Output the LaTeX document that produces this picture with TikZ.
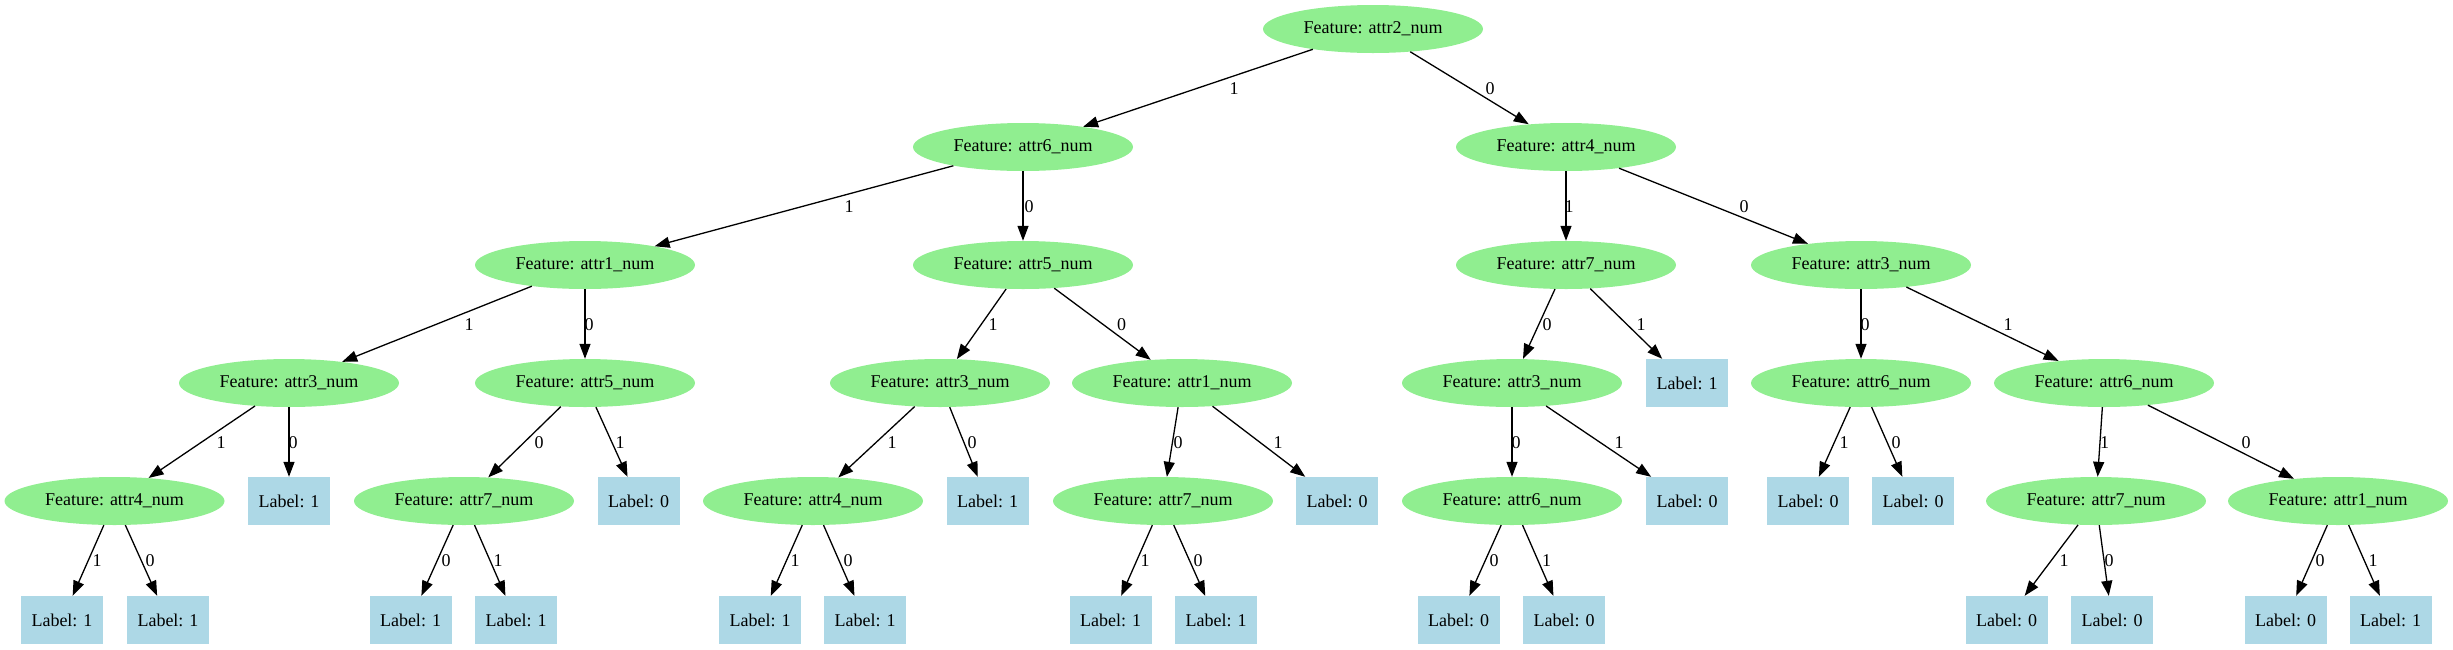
\documentclass[tikz,border=0pt]{standalone}
\usepackage{fontspec}
\setmainfont{Liberation Serif}
\usetikzlibrary{shapes.geometric,arrows.meta}
\definecolor{featfill}{HTML}{90EE90}
\definecolor{leaffill}{HTML}{ADD8E6}
\tikzset{
  feat/.style={ellipse, fill=featfill, inner sep=0pt, minimum width=220pt, minimum height=48pt, font=\fontsize{18}{20}\selectfont},
  leaf/.style={rectangle, fill=leaffill, inner sep=0pt, minimum width=82pt, minimum height=48pt, font=\fontsize{18}{20}\selectfont},
  edge/.style={draw=black, line width=1.3pt, -{Triangle[length=15pt,width=11pt]}},
  elab/.style={inner sep=0pt, font=\fontsize{18}{20}\selectfont}
}
\begin{document}
\begin{tikzpicture}[x=1pt,y=-1pt]
\useasboundingbox (0,0) rectangle (2453,649);
% level 0
\node[feat] (r) at (1373,29) {Feature: attr2\_num};
% level 1
\node[feat] (a6) at (1023,147) {Feature: attr6\_num};
\node[feat] (a4) at (1566,147) {Feature: attr4\_num};
% level 2
\node[feat] (b1) at (585,265) {Feature: attr1\_num};
\node[feat] (b5) at (1023,265) {Feature: attr5\_num};
\node[feat] (b7) at (1566,265) {Feature: attr7\_num};
\node[feat] (b3) at (1861,265) {Feature: attr3\_num};
% level 3
\node[feat] (cA) at (289,383) {Feature: attr3\_num};
\node[feat] (cB) at (585,383) {Feature: attr5\_num};
\node[feat] (cC) at (940,383) {Feature: attr3\_num};
\node[feat] (cD) at (1182,383) {Feature: attr1\_num};
\node[feat] (cE) at (1512,383) {Feature: attr3\_num};
\node[leaf] (cF) at (1687,383) {Label: 1};
\node[feat] (cG) at (1861,383) {Feature: attr6\_num};
\node[feat] (cH) at (2104,383) {Feature: attr6\_num};
% level 4
\node[feat] (dA) at (114.5,501) {Feature: attr4\_num};
\node[leaf] (dA2) at (289,501) {Label: 1};
\node[feat] (dB) at (464,501) {Feature: attr7\_num};
\node[leaf] (dB2) at (638.5,501) {Label: 0};
\node[feat] (dC) at (813,501) {Feature: attr4\_num};
\node[leaf] (dC2) at (987.5,501) {Label: 1};
\node[feat] (dD) at (1163,501) {Feature: attr7\_num};
\node[leaf] (dD2) at (1337,501) {Label: 0};
\node[feat] (dE) at (1512,501) {Feature: attr6\_num};
\node[leaf] (dE2) at (1687,501) {Label: 0};
\node[leaf] (dG1) at (1808,501) {Label: 0};
\node[leaf] (dG2) at (1913,501) {Label: 0};
\node[feat] (dH1) at (2096,501) {Feature: attr7\_num};
\node[feat] (dH2) at (2338,501) {Feature: attr1\_num};
% level 5
\node[leaf] (eA1) at (62,620) {Label: 1};
\node[leaf] (eA2) at (168,620) {Label: 1};
\node[leaf] (eB1) at (410.5,620) {Label: 1};
\node[leaf] (eB2) at (516,620) {Label: 1};
\node[leaf] (eC1) at (760,620) {Label: 1};
\node[leaf] (eC2) at (865,620) {Label: 1};
\node[leaf] (eD1) at (1110.5,620) {Label: 1};
\node[leaf] (eD2) at (1216,620) {Label: 1};
\node[leaf] (eE1) at (1458.5,620) {Label: 0};
\node[leaf] (eE2) at (1564,620) {Label: 0};
\node[leaf] (eH1a) at (2006.5,620) {Label: 0};
\node[leaf] (eH1b) at (2112,620) {Label: 0};
\node[leaf] (eH2a) at (2285.5,620) {Label: 0};
\node[leaf] (eH2b) at (2390.5,620) {Label: 1};
% edges
\draw[edge] (r) -- (a6) node[elab,at={(1234,89)}] {1};
\draw[edge] (r) -- (a4) node[elab,at={(1490,89)}] {0};
\draw[edge] (a6) -- (b1) node[elab,at={(849,207)}] {1};
\draw[edge] (a6) -- (b5) node[elab,at={(1029,207)}] {0};
\draw[edge] (a4) -- (b7) node[elab,at={(1569,207)}] {1};
\draw[edge] (a4) -- (b3) node[elab,at={(1744,207)}] {0};
\draw[edge] (b1) -- (cA) node[elab,at={(469,325)}] {1};
\draw[edge] (b1) -- (cB) node[elab,at={(589,325)}] {0};
\draw[edge] (b5) -- (cC) node[elab,at={(993,325)}] {1};
\draw[edge] (b5) -- (cD) node[elab,at={(1121.5,325)}] {0};
\draw[edge] (b7) -- (cE) node[elab,at={(1547,325)}] {0};
\draw[edge] (b7) -- (cF) node[elab,at={(1641,325)}] {1};
\draw[edge] (b3) -- (cG) node[elab,at={(1865,325)}] {0};
\draw[edge] (b3) -- (cH) node[elab,at={(2008,325)}] {1};
\draw[edge] (cA) -- (dA) node[elab,at={(221,443)}] {1};
\draw[edge] (cA) -- (dA2) node[elab,at={(293,443)}] {0};
\draw[edge] (cB) -- (dB) node[elab,at={(539,443)}] {0};
\draw[edge] (cB) -- (dB2) node[elab,at={(620,443)}] {1};
\draw[edge] (cC) -- (dC) node[elab,at={(892,443)}] {1};
\draw[edge] (cC) -- (dC2) node[elab,at={(972,443)}] {0};
\draw[edge] (cD) -- (dD) node[elab,at={(1178,443)}] {0};
\draw[edge] (cD) -- (dD2) node[elab,at={(1278,443)}] {1};
\draw[edge] (cE) -- (dE) node[elab,at={(1516,443)}] {0};
\draw[edge] (cE) -- (dE2) node[elab,at={(1619,443)}] {1};
\draw[edge] (cG) -- (dG1) node[elab,at={(1844,443)}] {1};
\draw[edge] (cG) -- (dG2) node[elab,at={(1896,443)}] {0};
\draw[edge] (cH) -- (dH1) node[elab,at={(2104.5,443)}] {1};
\draw[edge] (cH) -- (dH2) node[elab,at={(2246,443)}] {0};
\draw[edge] (dA) -- (eA1) node[elab,at={(97,561)}] {1};
\draw[edge] (dA) -- (eA2) node[elab,at={(150,561)}] {0};
\draw[edge] (dB) -- (eB1) node[elab,at={(446,561)}] {0};
\draw[edge] (dB) -- (eB2) node[elab,at={(498,561)}] {1};
\draw[edge] (dC) -- (eC1) node[elab,at={(795,561)}] {1};
\draw[edge] (dC) -- (eC2) node[elab,at={(848,561)}] {0};
\draw[edge] (dD) -- (eD1) node[elab,at={(1145,561)}] {1};
\draw[edge] (dD) -- (eD2) node[elab,at={(1198,561)}] {0};
\draw[edge] (dE) -- (eE1) node[elab,at={(1494,561)}] {0};
\draw[edge] (dE) -- (eE2) node[elab,at={(1546.5,561)}] {1};
\draw[edge] (dH1) -- (eH1a) node[elab,at={(2064,561)}] {1};
\draw[edge] (dH1) -- (eH1b) node[elab,at={(2109,561)}] {0};
\draw[edge] (dH2) -- (eH2a) node[elab,at={(2320,561)}] {0};
\draw[edge] (dH2) -- (eH2b) node[elab,at={(2373,561)}] {1};
\end{tikzpicture}
\end{document}
